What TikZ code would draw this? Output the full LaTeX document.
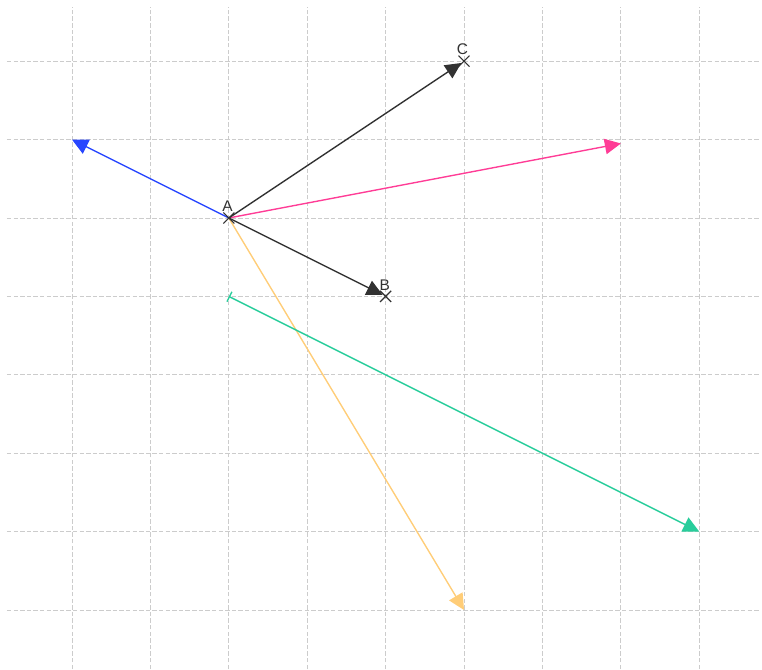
\documentclass[tikz,border=0pt]{standalone}
\usepackage{fontspec}
\setsansfont{Liberation Sans}
\usepackage{tikz}
\usetikzlibrary{arrows.meta, shapes.misc, positioning}
\usepackage{xcolor}

\definecolor{vecblue}{RGB}{40,70,255}
\definecolor{vecpink}{RGB}{255,60,150}
\definecolor{vecyellow}{RGB}{255,205,120}
\definecolor{vecgreen}{RGB}{40,205,155}
\definecolor{vecdark}{RGB}{50,50,50}

\begin{document}
\begin{tikzpicture}[
    gridline/.style={gray!40, line width=0.3pt, dash pattern=on 1.6pt off 0.8pt},
    vec/.style={line width=0.5pt, -{Triangle[length=5.8pt, width=5.6pt]}},
    ptmark/.style={draw=vecdark, cross out, line width=0.4pt, minimum size=3.6pt, inner sep=0pt},
    ptlabel/.style={font=\fontsize{5.6}{6}\selectfont\sffamily, inner sep=0.5pt, text=vecdark}]
  \useasboundingbox (-0.918,-0.753) rectangle (8.80,7.78);

  % grid
  \foreach \i in {0,...,8}
    \draw[gridline] (\i,-0.753) -- (\i,7.69);
  \foreach \j in {0,...,7}
    \draw[gridline] (-0.83,\j) -- (8.78,\j);

  % points
  \coordinate (A) at (2,5);
  \coordinate (B) at (4,4);
  \coordinate (C) at (5,7);
  \coordinate (blueend) at (0,6);
  \coordinate (pinkend) at (7,5.95);
  \coordinate (yellowend) at (5,0);
  \coordinate (greenstart) at (2,4);
  \coordinate (greenend) at (8,1);

  % vectors from A
  \draw[vec, vecblue] (A) -- (blueend);
  \draw[vec, vecpink] (A) -- (pinkend);
  \draw[vec, vecyellow] (A) -- (yellowend);
  \draw[vec, vecdark, shorten >=1.2pt] (A) -- (B);
  \draw[vec, vecdark, shorten >=1.2pt] (A) -- (C);

  % free vector
  \draw[line width=0.5pt, vecgreen, {Bar[width=4pt]}-{Triangle[length=5.8pt, width=5.6pt]}] (greenstart) -- (greenend);

  % marks and labels
  \foreach \p in {A,B,C}
    \node[ptmark] (mark\p) at (\p) {};
  \node[ptlabel, above=1.6pt of A, xshift=-0.5pt] (labA) {A};
  \node[ptlabel, above=1.4pt of B, xshift=-0.3pt] (labB) {B};
  \node[ptlabel, above=1.6pt of C, xshift=-0.6pt] (labC) {C};
\end{tikzpicture}
\end{document}
